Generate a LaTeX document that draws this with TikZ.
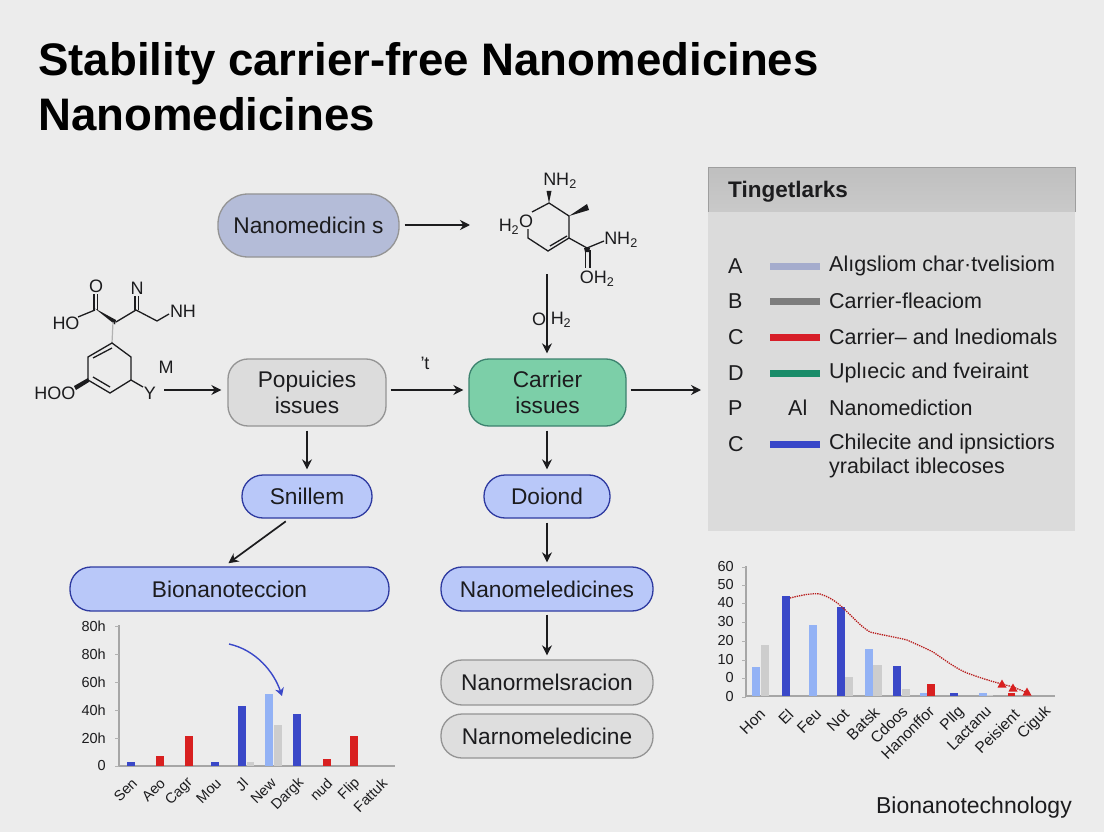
\documentclass[tikz,border=0pt]{standalone}
\usepackage{fontspec}
\setmainfont{Liberation Sans}
\usetikzlibrary{arrows.meta,calc}
\definecolor{bgc}{HTML}{ECECEC}
\definecolor{ink}{HTML}{1C1C1E}
\definecolor{cblue}{HTML}{3A48C8}
\definecolor{clight}{HTML}{93B2F5}
\definecolor{cgray}{HTML}{CDCDCD}
\definecolor{cred}{HTML}{D82020}
\definecolor{fnano}{HTML}{B4BCD8}
\definecolor{fpop}{HTML}{DCDCDC}
\definecolor{fcar}{HTML}{7CCFA8}
\definecolor{dcar}{HTML}{3C826E}
\definecolor{fblue}{HTML}{B9C8F9}
\definecolor{fgrey}{HTML}{DEDEDE}
\definecolor{la}{HTML}{A5ACCD}
\definecolor{lb}{HTML}{7D7D7D}
\definecolor{lc}{HTML}{D71E28}
\definecolor{ld}{HTML}{198C69}
\definecolor{le}{HTML}{3746C8}
\newcommand{\fs}[1]{\fontsize{#1}{#1}\selectfont}
\tikzset{
  x=1pt,y=-1pt,
  box/.style={draw,line width=1.3pt,inner sep=0pt,align=center,text=ink,font=\fs{22.7}},
  greybox/.style={box,fill=#1,draw=black!42},
  bluebox/.style={box,fill=fblue,draw=cblue!80!black},
  arr/.style={draw=ink,line width=1.7pt,-{Stealth[length=10pt,width=10pt]}},
  bond/.style={draw=ink,line width=1.3pt},
  chem/.style={inner sep=0pt,text=ink,font=\fs{18}},
  leg/.style={inner sep=0pt,anchor=west,text=ink,font=\fs{21.5}},
  axl/.style={inner sep=0pt,text=ink,font=\fs{14.5}},
  rlab/.style={inner sep=0pt,text=ink,font=\fs{15.5},rotate=45,anchor=east,xshift=-1.5pt,yshift=-2.5pt},
  axisl/.style={draw=black!35,line width=1.1pt},
}
\begin{document}
\begin{tikzpicture}
\useasboundingbox (0,0) rectangle (1104,832);
\fill[bgc] (0,0) rectangle (1104,832);
% title
\node[anchor=base west,inner sep=0pt,text=black,font=\fs{45.6}\bfseries] (t1) at (38,76) {Stability carrier-free Nanomedicines};
\node[anchor=base west,inner sep=0pt,text=black,font=\fs{45.6}\bfseries] (t2) at (38,131) {Nanomedicines};
% flow nodes
\node[greybox=fnano,minimum width=181pt,minimum height=63pt,rounded corners=30pt] (nano) at (308.5,225.5) {Nanomedicin s};
\node[greybox=fpop,minimum width=158pt,minimum height=67pt,rounded corners=20pt] (pop) at (307,392.5) {Popuicies\\[3pt]issues};
\node[box,fill=fcar,draw=dcar,minimum width=157pt,minimum height=67pt,rounded corners=20pt] (car) at (547.5,392.5) {Carrier\\[3pt]issues};
\node[bluebox,minimum width=130pt,minimum height=43pt,rounded corners=21pt] (sni) at (307,496.5) {Snillem};
\node[bluebox,minimum width=126pt,minimum height=43pt,rounded corners=21pt] (doi) at (547,496.5) {Doiond};
\node[bluebox,minimum width=319pt,minimum height=44pt,rounded corners=21pt] (bio) at (229.5,589) {Bionanoteccion};
\node[bluebox,minimum width=212pt,minimum height=44pt,rounded corners=21pt] (med) at (547,589) {Nanomeledicines};
\node[greybox=fgrey,minimum width=212pt,minimum height=45pt,rounded corners=21pt] (nr1) at (547,682.5) {Nanormelsracion};
\node[greybox=fgrey,minimum width=212pt,minimum height=44pt,rounded corners=21pt] (nr2) at (547,736) {Narnomeledicine};
% free ends
\coordinate (m2in) at (470,225);
\coordinate (m2out) at (547,274);
\coordinate (m1out) at (164,390);
\coordinate (panelin) at (701,390);
\coordinate (snis) at (289,519);
\coordinate (bion) at (226,565);
% connectors
\draw[arr,shorten <=5pt] (nano.east |- m2in) -- (m2in);
\draw[arr,shorten >=6pt] (m1out) -- (m1out -| pop.west);
\draw[arr,shorten <=4pt,shorten >=5pt] (m1out -| pop.east) -- (m1out -| car.west);
\draw[arr,shorten <=4pt] (m1out -| car.east) -- (panelin);
\draw[arr,shorten >=5pt] (m2out) -- (car.north -| m2out);
\draw[arr,shorten <=4pt,shorten >=5pt] (pop.south) -- (sni.north);
\draw[arr,shorten <=4pt,shorten >=5pt] (car.south -| doi) -- (doi.north);
\draw[arr,shorten <=4pt,shorten >=3pt] (snis) -- (bion);
\draw[arr,shorten <=4pt,shorten >=4pt] (doi.south) -- (med.north);
\draw[arr,shorten <=3pt,shorten >=4pt] (med.south) -- (nr1.north);
% labels on connectors
\node[chem] (lt) at (425,363) {'t};
\node[chem] (lm) at (166,367) {M};
\node[chem] (ly) at (150,393) {Y};
\node[chem] (lo) at (539,319) {O};
\node[chem] (lh) at (561,320) {H\textsubscript{2}};
% molecule 1
\node[chem] (a1) at (96,286) {O};
\node[chem] (a2) at (137,288) {N};
\node[chem] (a3) at (183,311) {NH};
\node[chem] (a4) at (66,323) {HO};
\node[chem] (a5) at (55,393) {HOO};
\draw[bond] (94,294) -- (94,310) (97.5,294) -- (97.5,310);
\draw[bond] (78,317) -- (95,310);
\fill[ink] (95,308.5) -- (116,320) -- (115,324.5) -- cycle;
\draw[bond] (116,322) -- (136,310) -- (157,321) -- (169,314);
\draw[bond] (135,296) -- (135,310) (138.5,296) -- (138.5,310);
\draw[draw=black!30,line width=1.2pt] (113,322) -- (112,343);
\draw[bond] (112,343) -- (131,357) -- (131,380) -- (110,393) -- (88,380) -- (88,357) -- cycle;
\draw[bond] (93,358) -- (112,348) (93,377) -- (110,387);
\fill[ink] (88,378) -- (89,382) -- (76,390) -- (74,386) -- cycle;
\draw[bond] (131,380) -- (143,387);
% molecule 2
\node[chem] (b1) at (560,181) {NH\textsubscript{2}};
\node[chem] (b2) at (526,221) {O};
\node[chem] (b3) at (509,227) {H\textsubscript{2}};
\node[chem] (b4) at (621,240) {NH\textsubscript{2}};
\node[chem] (b5) at (597,279) {OH\textsubscript{2}};
\fill[ink] (549,203) -- (546.5,191) -- (551.5,191) -- cycle;
\draw[bond] (532,212) -- (549,203) -- (569,216) -- (569,238) -- (548,251) -- (528,238) -- (528,229);
\draw[bond] (550,246) -- (567,236);
\fill[ink] (569,216) -- (587,204) -- (589,210) -- cycle;
\draw[bond] (569,238) -- (587,248) -- (604,241);
\fill[ink] (584,248) -- (590,248) -- (589,252) -- (585,252) -- cycle;
\draw[bond] (585.5,250) -- (585.5,268) (590,250) -- (590,268);
% legend panel
\fill[black!14] (708,168) rectangle (1075,531);
\shade[top color=black!25,bottom color=black!21] (708,168) rectangle (1075,212);
\draw[black!38,line width=1pt] (708,212) -- (708,168) -- (1075,168) -- (1075,212);
\node[inner sep=0pt,anchor=west,text=ink,font=\fs{22.5}\bfseries] (lgt) at (728,191.5) {Tingetlarks};
\foreach \k/\v/\y/\c [count=\i] in {A/Alıgsliom char·tvelisiom/266/la,B/Carrier-fleaciom/301/lb,C/Carrier– and lnediomals/337/lc,D/Uplıecic and fveiraint/373/ld,C/Chilecite and ipnsictiors/444/le}{
  \node[leg] (lk\i) at (728,\y) {\k};
  \node[leg] (lv\i) at (829,\y) {\v};
  \fill[\c] (770,\y-3.5) rectangle (820,\y+3.5);
}
\node[leg] (lk6) at (728,408) {P};
\node[leg] (lai) at (788,408) {Al};
\node[leg] (lv6) at (829,408) {Nanomediction};
\node[leg] (lv7) at (829,468) {yrabilact iblecoses};
% footer
\node[inner sep=0pt,anchor=east,text=ink,font=\fs{23}] (foot) at (1072,808) {Bionanotechnology};
% chart left
\draw[axisl] (119,625) -- (119,766) -- (395,766);
\foreach \t/\y [count=\i] in {80h/626,80h/654,60h/682,40h/710,20h/738,0/766}{
  \node[axl,anchor=east] (cy\i) at (106,\y) {\t};
  \draw[black!30,line width=.8pt] (115,\y) -- (119,\y);
}
\foreach \a/\b/\t/\c in {127/135/762/cblue,156/164/756/cred,185/193/736/cred,211/219/762/cblue,238/246/706/cblue,247/254/762/cgray,265/273/694/clight,274/282/725/cgray,293/301/714/cblue,323/331/759/cred,350/358/736/cred}
  \fill[\c] (\a,\t) rectangle (\b,765.5);
\foreach \t/\x/\y [count=\i] in {Sen/134/778,Aeo/162/778,Cagr/190/778,Mou/218/778,Jl/245/778,New/273/778,Dargk/301/778,nud/329/778,Flip/357/778,Fattuk/384/778}
  \node[rlab,font=\fs{14.5}] (cx\i) at (\x,\y) {\t};
\draw[draw=cblue,line width=1.4pt,-{Stealth[length=8pt,width=9pt]}] (229,644) .. controls (256,650) and (274,672) .. (282,696);
% chart right
\draw[axisl] (746,566) -- (746,696) -- (1055,696);
\foreach \t/\y [count=\i] in {60/567,50/585,40/603,30/622,20/641,10/660,0/678,0/697}{
  \node[axl,anchor=east] (dy\i) at (734,\y) {\t};
  \draw[black!30,line width=.8pt] (742,\y) -- (746,\y);
}
\foreach \a/\b/\t/\c in {752/760/667/clight,761/769/645/cgray,782/790/596/cblue,809/817/625/clight,837/845/607/cblue,845/853/677/cgray,865/873/649/clight,873/882/665/cgray,893/901/666/cblue,902/910/689/cgray,920/927/693/clight,927/935/684/cred,950/958/693/cblue,979/987/693/clight,987/993/695/cgray,1008/1015/693/cred}
  \fill[\c] (\a,\t) rectangle (\b,695.5);
\foreach \t/\x/\y [count=\i] in {Hon/762/709,El/790/709,Feu/818/709,Not/846/709,Batsk/876/707,Cdoos/904/706,Hanonffor/931/706,Pllg/961/707,Lactanu/988/706,Peisient/1016/709,Ciguk/1048/706}
  \node[rlab] (dx\i) at (\x,\y) {\t};
\draw[cred!85!black,line width=1.3pt,densely dotted] (790,598) .. controls (802,595) and (812,593) .. (820,594) .. controls (830,597) and (838,603) .. (843,608) .. controls (852,616) and (860,626) .. (870,632) .. controls (882,635) and (895,637) .. (907,640) .. controls (916,644) and (925,648) .. (933,652) .. controls (945,660) and (955,668) .. (967,673) .. controls (978,677) and (990,681) .. (1002,684) -- (1013,687) -- (1028,693);
\foreach \x/\y in {1002/684,1013/688,1027/692}
  \fill[cred] (\x-4.5,\y+3.5) -- (\x+4.5,\y+3.5) -- (\x,\y-4.5) -- cycle;
\end{tikzpicture}
\end{document}
